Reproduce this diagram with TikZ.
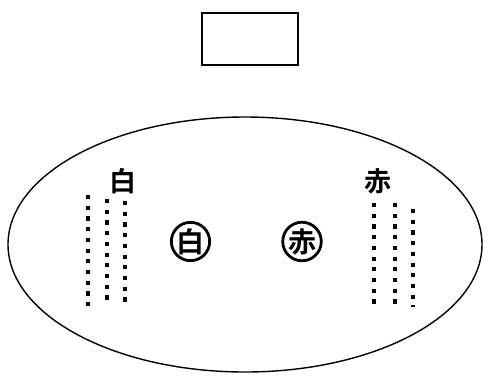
\documentclass[tikz,border=0pt]{standalone}
\usepackage{fontspec}
\usetikzlibrary{shapes.geometric}
\newfontfamily\cjk[BoldFont={Noto Sans CJK JP Bold}]{Noto Sans CJK JP}
\begin{document}
\begin{tikzpicture}[x=1pt,y=-1pt,
  dots/.style={line width=4.2pt,dash pattern=on 4.2pt off 6.5pt},
  lbl/.style={font=\cjk\bfseries\fontsize{27}{27}\selectfont,inner sep=0pt},
  circ/.style={circle,draw,line width=2.8pt,minimum size=34pt,inner sep=0pt,font=\cjk\bfseries\fontsize{28}{28}\selectfont}]
\useasboundingbox (0,0) rectangle (490,376);
\node[draw,line width=2pt,minimum width=96pt,minimum height=52pt,inner sep=0pt] (box) at (249.5,38.5) {};
\node[ellipse,draw,line width=1.4pt,minimum width=474pt,minimum height=255pt,inner sep=0pt] (field) at (245,244.5) {};
\node[lbl] (w) at (123,181) {白};
\node[lbl] (r) at (378,181) {赤};
\node[circ] (cw) at (190.5,241.5) {白};
\node[circ] (cr) at (302,241.5) {赤};
\coordinate (a1) at (88,195); \coordinate (a2) at (88,306);
\coordinate (b1) at (107,199); \coordinate (b2) at (107,302);
\coordinate (c1) at (125,201); \coordinate (c2) at (125,304);
\coordinate (d1) at (374,203); \coordinate (d2) at (374,306);
\coordinate (e1) at (395,203); \coordinate (e2) at (395,306);
\coordinate (f1) at (413,209); \coordinate (f2) at (413,307);
\foreach \s/\e in {a1/a2,b1/b2,c1/c2,d1/d2,e1/e2,f1/f2}
  \draw[dots] (\s) -- (\e);
\end{tikzpicture}
\end{document}
